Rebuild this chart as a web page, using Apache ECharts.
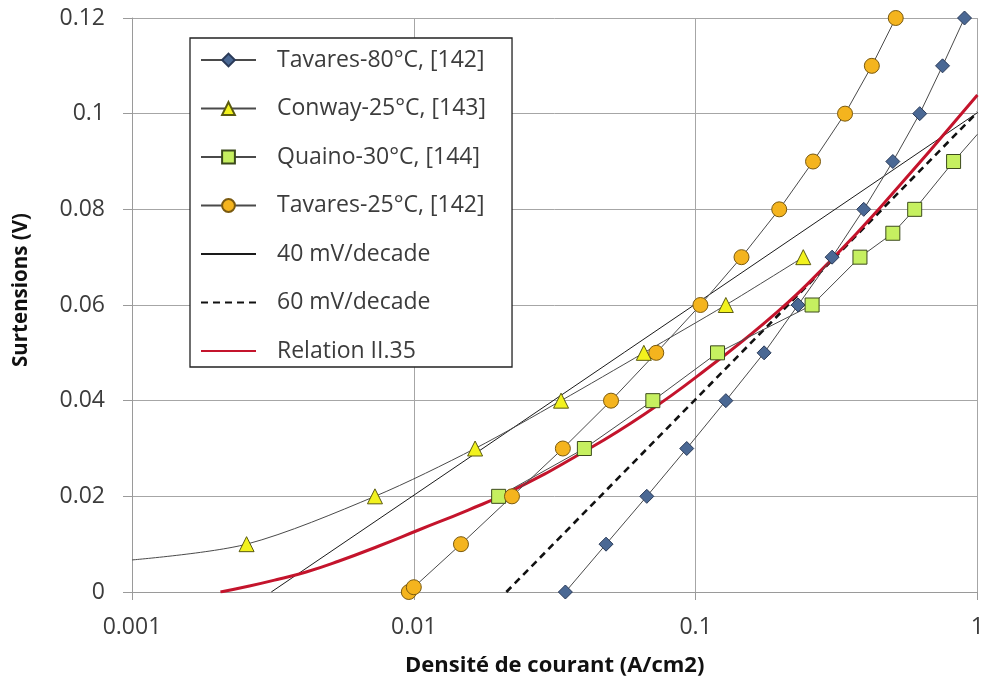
<!DOCTYPE html>
<html>
<head>
<meta charset="utf-8">
<script src="https://cdn.jsdelivr.net/npm/echarts@6/dist/echarts.min.js"></script>
<style>html,body{margin:0;padding:0;background:#fff}#c{width:987px;height:684px}</style>
</head>
<body>
<div id="c"></div>
<script>
// Data
const tavares80X = [0.0345, 0.0481, 0.0671, 0.093, 0.128, 0.175, 0.231, 0.305, 0.395, 0.501, 0.624, 0.752, 0.90];
const tavares80Y = [0, 0.01, 0.02, 0.03, 0.04, 0.05, 0.06, 0.07, 0.08, 0.09, 0.10, 0.11, 0.12];

const conwayX = [0.001, 0.00255, 0.00728, 0.0165, 0.0333, 0.0655, 0.128, 0.241];
const conwayY = [0.0067, 0.01, 0.02, 0.03, 0.04, 0.05, 0.06, 0.07];

const quainoX = [0.0200, 0.0403, 0.0705, 0.1196, 0.259, 0.383, 0.501, 0.599, 0.823, 1.0];
const quainoY = [0.02, 0.03, 0.04, 0.05, 0.06, 0.07, 0.075, 0.08, 0.09, 0.0957];

const tavares25X = [0.0096, 0.0100, 0.0147, 0.0223, 0.0338, 0.0501, 0.0725, 0.104, 0.1455, 0.198, 0.261, 0.339, 0.422, 0.513];
const tavares25Y = [0, 0.001, 0.01, 0.02, 0.03, 0.04, 0.05, 0.06, 0.07, 0.08, 0.09, 0.10, 0.11, 0.12];

const slope40X = [0.00312, 1.0];
const slope40Y = [0, 0.1002];

const slope60X = [0.0213, 1.0];
const slope60Y = [0, 0.1003];

const relationX = [0.00206, 0.00261, 0.00333, 0.00415, 0.00543, 0.00752, 0.0104, 0.0156, 0.0222, 0.0383, 0.066, 0.113, 0.195, 0.293, 0.4505, 1.0];
const relationY = [0, 0.00125, 0.00272, 0.00418, 0.00648, 0.00962, 0.01296, 0.01714, 0.02111, 0.02864, 0.03721, 0.04725, 0.05854, 0.06857, 0.08028, 0.1039];

const xTicks = [0.001, 0.01, 0.1, 1];
const yTicks = [0, 0.02, 0.04, 0.06, 0.08, 0.1, 0.12];

const names = ['Tavares-80°C, [142]', 'Conway-25°C, [143]', 'Quaino-30°C, [144]', 'Tavares-25°C, [142]', '40 mV/decade', '60 mV/decade', 'Relation II.35'];

function pairs(xs, ys, hideIdx) {
  return xs.map((x, i) => (hideIdx && hideIdx.indexOf(i) >= 0)
    ? { value: [x, ys[i]], symbol: 'none' }
    : [x, ys[i]]);
}

const FONT = '"Open Sans", "Noto Sans", sans-serif';
const connLine = { color: '#4a4a4a', width: 1 };

const chart = echarts.init(document.getElementById('c'), null, { renderer: 'canvas' });
chart.setOption({
  animation: false,
  backgroundColor: '#ffffff',
  grid: { left: 132, right: 7, top: 18, bottom: 92, containLabel: false },
  xAxis: {
    type: 'log', logBase: 10, min: xTicks[0], max: xTicks[xTicks.length - 1],
    name: 'Densité de courant (A/cm2)', nameLocation: 'middle', nameGap: 63,
    nameTextStyle: { fontFamily: FONT, fontWeight: 'bold', fontSize: 22, color: '#111' },
    axisLine: { show: true, lineStyle: { color: '#9a9a9a', width: 1 } },
    axisTick: { show: true, inside: false, length: 8, lineStyle: { color: '#9a9a9a' } },
    minorTick: { show: false },
    axisLabel: { fontFamily: FONT, fontSize: 23, color: '#3c3c3c', margin: 24,
      formatter: v => String(+v.toPrecision(6)) },
    splitLine: { show: true, lineStyle: { color: '#a6a6a6', width: 1 } }
  },
  yAxis: {
    type: 'value', min: yTicks[0], max: yTicks[yTicks.length - 1], interval: 0.02,
    name: 'Surtensions (V)', nameLocation: 'middle', nameGap: 100, nameRotate: 90,
    nameTextStyle: { fontFamily: FONT, fontWeight: 'bold', fontSize: 20.5, color: '#111', padding: [0, 0, 0, 30] },
    axisLine: { show: true, lineStyle: { color: '#9a9a9a', width: 1 } },
    axisTick: { show: true, inside: false, length: 9, lineStyle: { color: '#9a9a9a' } },
    axisLabel: { fontFamily: FONT, fontSize: 23, color: '#3c3c3c', margin: 27,
      formatter: v => String(+v.toFixed(4)) },
    splitLine: { show: true, lineStyle: { color: '#a6a6a6', width: 1 } }
  },
  legend: {
    orient: 'vertical', left: 190, top: 38,
    data: names.map((n, i) => i < 4 ? n : { name: n, itemStyle: { opacity: 0 } }),
    backgroundColor: '#ffffff', borderColor: '#222', borderWidth: 1.3, borderRadius: 0,
    padding: [10, 26, 4, 10],
    itemWidth: 55, itemHeight: 16, itemGap: 24.5,
    textStyle: { fontFamily: FONT, fontSize: 23, color: '#3c3c3c', lineHeight: 24, padding: [0, 0, 0, 16] }
  },
  series: [
    { name: names[0], type: 'line', data: pairs(tavares80X, tavares80Y),
      symbol: 'diamond', symbolSize: 14, lineStyle: connLine,
      itemStyle: { color: '#4a6894', borderColor: '#2a3a58', borderWidth: 1 }, z: 3 },
    { name: names[1], type: 'line', data: pairs(conwayX, conwayY, [0]), smooth: 0.3,
      symbol: 'triangle', symbolSize: 15, lineStyle: connLine,
      itemStyle: { color: '#f2f21e', borderColor: '#5a5a10', borderWidth: 1 }, z: 3 },
    { name: names[2], type: 'line', data: pairs(quainoX, quainoY, [9]),
      symbol: 'rect', symbolSize: 14, lineStyle: connLine,
      itemStyle: { color: '#c6f060', borderColor: '#3c4a1c', borderWidth: 1 }, z: 3 },
    { name: names[3], type: 'line', data: pairs(tavares25X, tavares25Y),
      symbol: 'circle', symbolSize: 15, lineStyle: connLine,
      itemStyle: { color: '#f4b41e', borderColor: '#7a5a10', borderWidth: 1 }, z: 3 },
    { name: names[4], type: 'line', data: pairs(slope40X, slope40Y), symbol: 'none',
      lineStyle: { color: '#1a1a1a', width: 1 }, itemStyle: { color: '#1a1a1a' }, z: 2 },
    { name: names[5], type: 'line', data: pairs(slope60X, slope60Y), symbol: 'none',
      lineStyle: { color: '#111', width: 2.6, type: [7, 5] }, itemStyle: { color: '#111' }, z: 2 },
    { name: names[6], type: 'line', data: pairs(relationX, relationY), symbol: 'none',
      smooth: 0.5,
      lineStyle: { color: '#c4142c', width: 3 }, itemStyle: { color: '#c4142c' }, z: 2 }
  ]
});
</script>
</body>
</html>
